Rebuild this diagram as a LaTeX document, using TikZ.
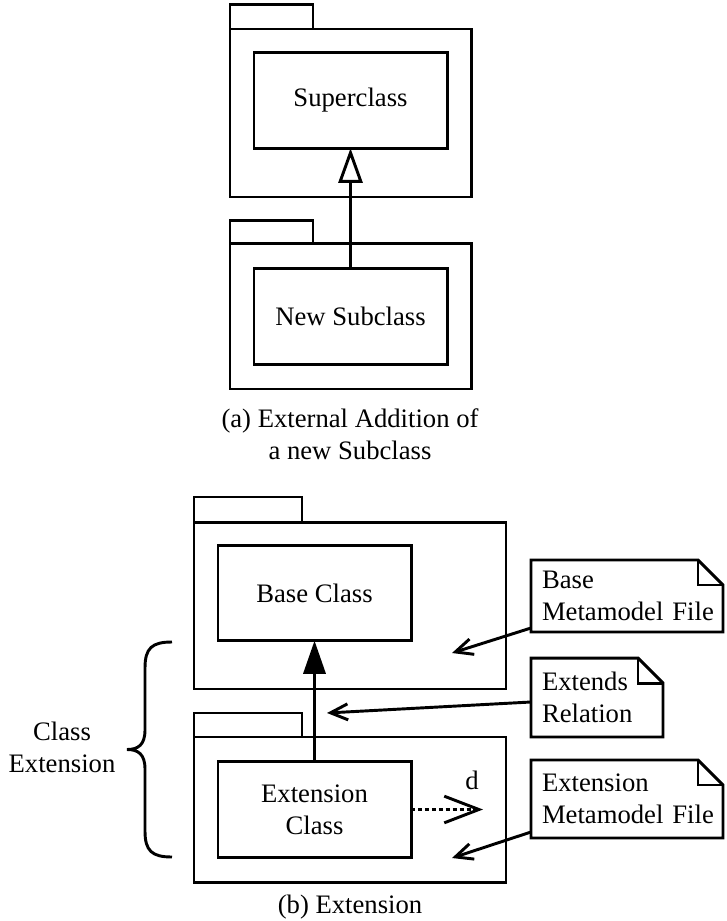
\documentclass[tikz,border=0pt]{standalone}
\usepackage{fontspec}
\setmainfont{Liberation Serif}
\usetikzlibrary{arrows.meta,calc}
\begin{document}
\begin{tikzpicture}[x=0.375pt,y=-0.375pt,
  line width=1.1pt,
  every node/.style={font=\fontsize{10}{12}\selectfont},
  pkg/.style={draw, inner sep=0pt, outer sep=0pt, minimum width=#1},
  classbox/.style={draw, inner sep=0pt, outer sep=0pt, minimum width=72.4pt,
    minimum height=35.8pt, align=center},
  notebox/.style={inner xsep=4.1pt, inner ysep=0pt, outer sep=0pt,
    align=left, text width=#1},
  noteline/.style={-{Straight Barb[length=6.5pt,width=6pt]}},
  gen/.style={-{Triangle[open,length=13pt,width=9pt]}},
  ext/.style={-{Triangle[length=12.4pt,width=8.3pt]}},
  dep/.style={dash pattern=on 1.5pt off 1.1pt,
    -{Straight Barb[length=13pt,width=10pt]}}]
\useasboundingbox (0,0) rectangle (726,921);

% --- (a) external addition of a new subclass ---
\node[pkg=90.4pt, minimum height=63pt] (pa) at (350.5,113) {};
\draw (pa.north west) rectangle ++(83,-24.5);
\node[classbox] (super) at (350.5,100.5) {Superclass};

\node[pkg=90.4pt, minimum height=54.4pt] (pb) at (350.5,316.5) {};
\draw (pb.north west) rectangle ++(83,-23);
\node[classbox] (sub) at (350.5,316.5) {New Subclass};

\draw[gen] (sub.north) -- (super.south);

% anchor=base of a multi-line node sits on its last line
\node[anchor=base, align=center] (capa) at (350,460)
  {(a) External Addition of\\a new Subclass};

% --- (b) extension ---
\node[pkg=117pt, minimum height=62.6pt] (pc) at (350,605.5) {};
\draw (pc.north west) rectangle ++(108,-25);
\node[classbox] (base) at (314.5,593) {Base Class};

\node[pkg=117pt, minimum height=54.4pt] (pd) at (350,809.5) {};
\draw (pd.north west) rectangle ++(108,-24);
\node[classbox] (extc) at (314.5,809.5) {Extension\\Class};

\draw[ext] (extc.north) -- (base.south);

\coordinate (dtip) at (483,809.5);
\draw[dep] (extc.east) -- (dtip);
\node (dlbl) at (472,780) {d};

% notes (each line kept whole with \mbox)
\node[notebox=63.75pt, minimum width=72pt, minimum height=27pt] (bnote) at (627,596)
  {\mbox{Base}\\\mbox{Metamodel File}};
\node[notebox=41.25pt, minimum width=49.5pt, minimum height=29.6pt] (enote) at (597,697.5)
  {\mbox{Extends}\\\mbox{Relation}};
\node[notebox=63.75pt, minimum width=72pt, minimum height=29.25pt] (xnote) at (627,799)
  {\mbox{Extension}\\\mbox{Metamodel File}};

\foreach \n in {bnote,enote,xnote}{
  \draw (\n.north west) -- ($(\n.north east)+(-25,0)$) -- ($(\n.north east)+(0,25)$)
        -- (\n.south east) -- (\n.south west) -- cycle;
  \draw ($(\n.north east)+(-25,0)$) |- ($(\n.north east)+(0,25)$);
}

\coordinate (bfile) at (452,653);
\coordinate (rel) at (327,713);
\coordinate (xfile) at (452,858);
\draw[noteline] ($(bnote.south west)+(0,-4)$) -- (bfile);
\draw[noteline] ($(enote.west)+(0,4.5)$) -- (rel);
\draw[noteline] ($(xnote.south west)+(0,-6)$) -- (xfile);

% brace grouping both packages
\draw (172,642) .. controls (152,642) and (145,648) .. (145,668)
  -- (145,730) .. controls (145,745) and (138,749.5) .. (127,749.5)
  .. controls (138,749.5) and (145,754) .. (145,769)
  -- (145,831) .. controls (145,851) and (152,857) .. (172,857);
\node[anchor=base, align=center] (clsext) at (62,772) {Class\\Extension};

\node[anchor=base] (capb) at (350,913) {(b) Extension};
\end{tikzpicture}
\end{document}
